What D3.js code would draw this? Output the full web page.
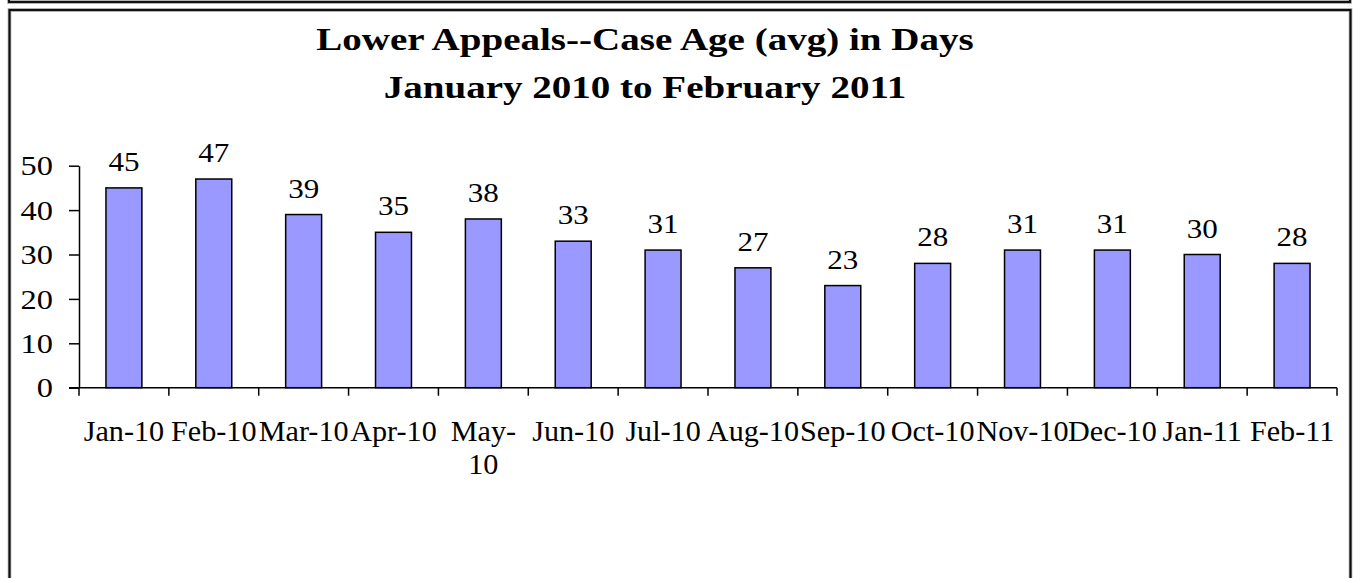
<!DOCTYPE html>
<html>
<head>
<meta charset="utf-8">
<script src="https://cdn.jsdelivr.net/npm/d3@7"></script>
<style>
  body { margin: 0; background: #fff; }
  svg text { font-family: "Times New Roman", "Liberation Serif", serif; fill: #000; }
</style>
</head>
<body>
<div id="chart"></div>
<script>
const months = ["Jan-10", "Feb-10", "Mar-10", "Apr-10", "May-10", "Jun-10", "Jul-10",
  "Aug-10", "Sep-10", "Oct-10", "Nov-10", "Dec-10", "Jan-11", "Feb-11"];
const caseAge = [45, 47, 39, 35, 38, 33, 31, 27, 23, 28, 31, 31, 30, 28];
const yTicks = [0, 10, 20, 30, 40, 50];
const titleLines = ["Lower Appeals--Case Age (avg) in Days", "January 2010 to February 2011"];

const W = 1353, H = 578;
const svg = d3.select("#chart").append("svg").attr("width", W).attr("height", H);

// frames (top one is the bottom of a previous chart box)
[["#999", 3.5], ["#111", 2]].forEach(s => {
  svg.append("rect").attr("x", 9).attr("y", -20).attr("width", 1341).attr("height", 22)
    .attr("fill", "none").attr("stroke", s[0]).attr("stroke-width", s[1]);
  svg.append("rect").attr("x", 9.5).attr("y", 10).attr("width", 1341).attr("height", 600)
    .attr("fill", "none").attr("stroke", s[0]).attr("stroke-width", s[1]);
});

// text in the source is stretched sideways
function stretched(sel, sx) {
  sel.attr("transform", function() {
    let t = d3.select(this);
    let px = +t.attr("x"), py = +t.attr("y");
    t.attr("x", 0).attr("y", 0);
    return `translate(${px},${py}) scale(${sx},1)`;
  });
}

// title
svg.selectAll("text.title").data(titleLines).enter().append("text")
  .attr("class", "title").attr("text-anchor", "middle").attr("font-weight", "bold")
  .attr("font-size", 32).attr("x", 645).attr("y", (d, i) => 50 + i * 48).text(d => d)
  .call(stretched, 1.22);

let x = d3.scaleBand().domain(months).range([79, 1337]).padding(0);
let y = d3.scaleLinear().domain([0, 50]).range([387.7, 165.7]);

// y axis
let yAxis = svg.append("g").attr("transform", "translate(79,0)")
  .call(d3.axisLeft(y).tickValues(yTicks).tickSize(10).tickSizeOuter(0).tickPadding(0));
yAxis.attr("font-family", null);
yAxis.selectAll("text").attr("font-size", 27).attr("x", -26).attr("y", 0).attr("dy", "0.34em")
  .call(stretched, 1.2);
yAxis.selectAll("line, path").attr("stroke", "#000").attr("stroke-width", 1.5);

// bars
svg.selectAll("rect.bar").data(caseAge).enter().append("rect")
  .attr("class", "bar")
  .attr("x", (d, i) => x(months[i]) + x.bandwidth() * 0.3)
  .attr("width", x.bandwidth() * 0.4)
  .attr("y", d => y(d))
  .attr("height", d => y(0) - y(d))
  .attr("fill", "#9999ff").attr("stroke", "#000").attr("stroke-width", 1.5);

// value labels
svg.selectAll("text.val").data(caseAge).enter().append("text")
  .attr("class", "val").attr("text-anchor", "middle").attr("font-size", 27)
  .attr("x", (d, i) => x(months[i]) + x.bandwidth() / 2)
  .attr("y", d => y(d) - 17).text(d => d)
  .call(stretched, 1.15);

// x axis line + boundary ticks
svg.append("line").attr("x1", 69).attr("x2", x.range()[1])
  .attr("y1", y(0)).attr("y2", y(0)).attr("stroke", "#000").attr("stroke-width", 1.5);
let bounds = months.map(m => x(m)).concat([x.range()[1]]);
svg.selectAll("line.xt").data(bounds).enter().append("line")
  .attr("x1", d => d).attr("x2", d => d).attr("y1", y(0)).attr("y2", y(0) + 8)
  .attr("stroke", "#000").attr("stroke-width", 1.5);

// x labels (wrap at hyphen when wider than the band)
let xs = 1.04;
let xl = svg.selectAll("g.xl").data(months).enter().append("g")
  .attr("class", "xl")
  .attr("transform", d => `translate(${x(d) + x.bandwidth() / 2},441) scale(${xs},1)`)
  .append("text").attr("text-anchor", "middle").attr("font-size", 29).text(d => d);
xl.each(function(d) {
  let t = d3.select(this);
  if (this.getComputedTextLength() > x.bandwidth()) {
    let parts = d.split("-");
    t.text(null);
    t.append("tspan").attr("x", 0).attr("y", 0).text(parts[0] + "-");
    t.append("tspan").attr("x", 0).attr("y", 33).text(parts[1]);
  }
});
</script>
</body>
</html>
